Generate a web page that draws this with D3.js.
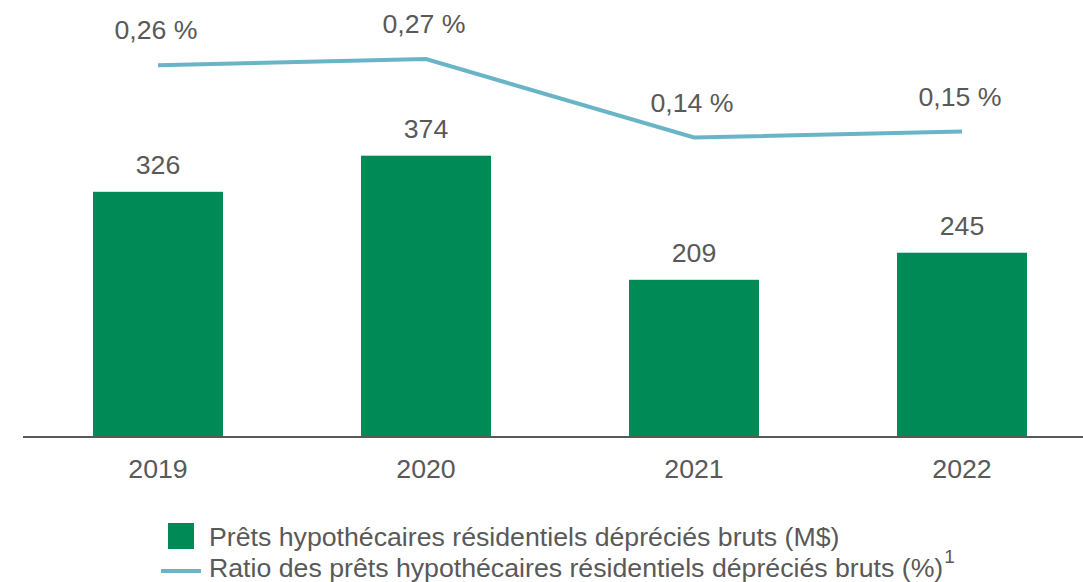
<!DOCTYPE html>
<html>
<head>
<meta charset="utf-8">
<script src="https://cdn.jsdelivr.net/npm/d3@7"></script>
<style>
  body { margin: 0; background: #fff; }
  svg { display: block; font-family: "Liberation Sans", Arial, sans-serif; }
</style>
</head>
<body>
<svg id="chart" width="1083" height="582"></svg>
<script>
'use strict';

let years = ['2019', '2020', '2021', '2022'];
let impaired = [326, 374, 209, 245];
let ratio = [0.26, 0.27, 0.14, 0.15];
let legendLabels = [
  'Prêts hypothécaires résidentiels dépréciés bruts (M$)',
  'Ratio des prêts hypothécaires résidentiels dépréciés bruts (%)',
];

let green = '#008b56';
let blue = '#6ab4c7';
let grey = '#595959';
let fontSize = '26.7px';

let svg = d3.select('#chart');

let x = d3.scaleBand()
  .domain(years)
  .range([24, 1096])
  .paddingInner(0.515)
  .paddingOuter(0.2575);

let yBar = d3.scaleLinear()
  .domain([0, 581])
  .range([437, 0]);

let yLine = d3.scaleLinear()
  .domain([0, 0.3])
  .range([222, 41]);

let fmtPct = v => d3.format('.2f')(v).replace('.', ',') + ' %';

// bars
svg.append('g')
  .selectAll('rect')
  .data(impaired)
  .join('rect')
    .attr('x', (d, i) => x(years[i]))
    .attr('y', d => yBar(d))
    .attr('width', x.bandwidth())
    .attr('height', d => yBar(0) - yBar(d))
    .style('fill', green);

svg.append('g')
  .selectAll('text')
  .data(impaired)
  .join('text')
    .attr('x', (d, i) => x(years[i]) + x.bandwidth() / 2)
    .attr('y', d => yBar(d) - 18)
    .style('text-anchor', 'middle')
    .style('font-size', fontSize)
    .style('fill', grey)
    .text(d => d);

// baseline axis
let axis = svg.append('g')
  .attr('transform', `translate(0,${yBar(0)})`)
  .call(d3.axisBottom(x).tickSize(0).tickPadding(0));
axis.select('.domain').remove();
axis.append('line')
  .attr('x1', 23)
  .attr('x2', 1083)
  .style('stroke', grey)
  .style('stroke-width', 2);
axis.selectAll('.tick text')
  .attr('y', 41)
  .attr('dy', 0)
  .style('font-size', fontSize)
  .style('font-family', '"Liberation Sans", Arial, sans-serif')
  .style('fill', grey);

// ratio line
let cx = i => x(years[i]) + x.bandwidth() / 2;
let line = d3.line()
  .x((d, i) => cx(i))
  .y(d => yLine(d));

svg.append('path')
  .datum(ratio)
  .attr('d', line)
  .style('fill', 'none')
  .style('stroke', blue)
  .style('stroke-width', 4);

svg.append('g')
  .selectAll('text')
  .data(ratio)
  .join('text')
    .attr('x', (d, i) => cx(i) - 2)
    .attr('y', d => yLine(d) - 26)
    .style('text-anchor', 'middle')
    .style('font-size', fontSize)
    .style('fill', grey)
    .text(fmtPct);

// legend
let legend = svg.append('g');
legend.append('rect')
  .attr('x', 168)
  .attr('y', 523)
  .attr('width', 26)
  .attr('height', 26)
  .style('fill', green);
legend.append('text')
  .attr('x', 209)
  .attr('y', 546)
  .style('font-size', fontSize)
  .style('fill', grey)
  .text(legendLabels[0]);
legend.append('line')
  .attr('x1', 161)
  .attr('x2', 201)
  .attr('y1', 571)
  .attr('y2', 571)
  .style('stroke', blue)
  .style('stroke-width', 4);
let t2 = legend.append('text')
  .attr('x', 209)
  .attr('y', 577)
  .style('font-size', fontSize)
  .style('fill', grey);
t2.append('tspan').text(legendLabels[1]);
t2.append('tspan')
  .attr('dx', 1)
  .attr('dy', -14)
  .style('font-size', '19px')
  .text('1');
</script>
</body>
</html>
